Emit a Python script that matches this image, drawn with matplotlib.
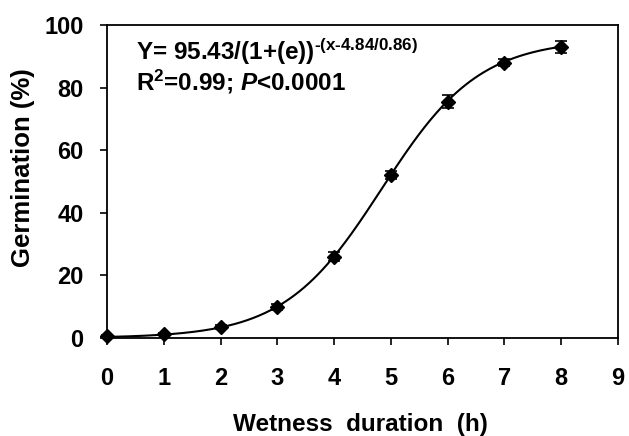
import numpy as np
import matplotlib
matplotlib.use("Agg")
import matplotlib.pyplot as plt

# Data
hours = [0, 1, 2, 3, 4, 5, 6, 7, 8]
germination = [0.5, 1.2, 3.5, 10.0, 26.0, 52.0, 75.5, 88.0, 93.0]
errors = [0.3, 0.4, 0.5, 1.0, 1.5, 1.2, 2.0, 1.0, 2.0]

# Fitted logistic model parameters (as printed on the chart)
fit_a = 95.43
fit_x0 = 4.84
fit_b = 0.86

xticks = [0, 1, 2, 3, 4, 5, 6, 7, 8, 9]
yticks = [0, 20, 40, 60, 80, 100]

plt.rcParams['font.family'] = ['Liberation Sans', 'DejaVu Sans']
plt.rcParams['font.weight'] = 'bold'
plt.rcParams['mathtext.fontset'] = 'custom'
plt.rcParams['mathtext.rm'] = 'Liberation Sans:bold'
plt.rcParams['mathtext.it'] = 'Liberation Sans:bold:italic'
plt.rcParams['mathtext.bf'] = 'Liberation Sans:bold'

fig = plt.figure(figsize=(6.29, 4.36), dpi=100)
ax = fig.add_axes([107/629, 1 - 338/436, (618-107)/629, (338-25)/436])

xs = np.linspace(0, 8, 300)
ys = fit_a / (1 + np.exp(-(xs - fit_x0) / fit_b))
ax.plot(xs, ys, color='black', lw=1.5, zorder=2)

ax.errorbar(hours, germination, yerr=errors, fmt='D', color='black',
            markersize=7.5, ecolor='black', elinewidth=1.2, capsize=4,
            capthick=1.2, zorder=3, clip_on=False)

ax.set_xlim(0, 9)
ax.set_ylim(0, 100)
ax.set_xticks(xticks)
ax.set_yticks(yticks)
ax.tick_params(axis='both', direction='out', length=5, width=1.2,
               labelsize=17)
ax.tick_params(axis='x', pad=16)
ax.tick_params(axis='y', pad=12)
for lab in ax.get_xticklabels() + ax.get_yticklabels():
    lab.set_fontweight('bold')
for sp in ax.spines.values():
    sp.set_linewidth(1.3)

ax.set_xlabel('Wetness  duration  (h)', fontsize=17.5, fontweight='bold')
ax.xaxis.label.set_va('baseline')
ax.xaxis.set_label_coords(0.495, (338 - 431) / 313)
ax.set_ylabel('Germination (%)', fontsize=18.5, fontweight='bold')
ax.yaxis.set_label_coords((35 - 107) / 511, 0.543)

ax.text(0.057, (338 - 60) / 313, r'Y= 95.43/(1+(e))$^{\text{-(x-4.84/0.86)}}$',
        transform=ax.transAxes, fontsize=17.5, fontweight='bold',
        va='baseline', ha='left')
ax.text(0.057, (338 - 90) / 313, r'R$^{\text{2}}$=0.99; $\mathit{P}$<0.0001',
        transform=ax.transAxes, fontsize=17.5, fontweight='bold',
        va='baseline', ha='left')

fig.savefig('out.png', dpi=100)
